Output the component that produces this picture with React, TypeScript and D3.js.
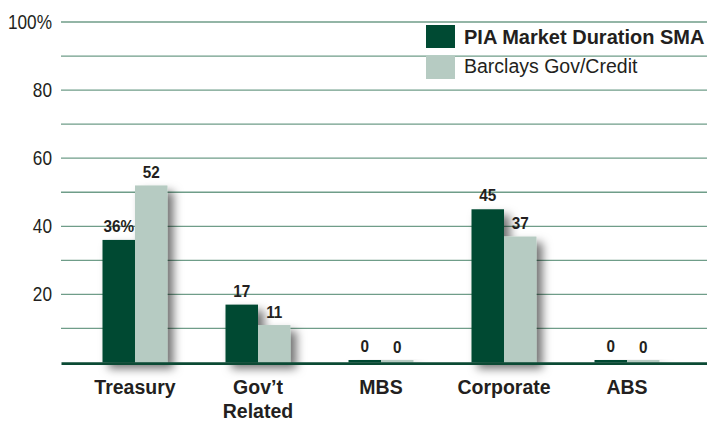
import React from "react";
import * as d3 from "d3";

const categories: string[][] = [["Treasury"], ["Gov’t", "Related"], ["MBS"], ["Corporate"], ["ABS"]];
const piaValues = [36, 17, 0, 45, 0];
const barclaysValues = [52, 11, 0, 37, 0];
const piaLabels = ["36%", "17", "0", "45", "0"];
const barclaysLabels = ["52", "11", "0", "37", "0"];
const gridTicks = [10, 20, 30, 40, 50, 60, 70, 80, 90, 100];
const labelTicks = [20, 40, 60, 80, 100];
const seriesNames = ["PIA Market Duration SMA", "Barclays Gov/Credit"];

const W = 707;
const H = 421;
const DARK = "#004a33";
const LIGHT = "#b6cbc2";
const GRID = "#6f9d89";
const TEXT = "#231f20";

export default function App() {
  const y = d3.scaleLinear().domain([0, 100]).range([362.5, 22]);
  const x = d3
    .scalePoint<number>()
    .domain(d3.range(categories.length))
    .range([73.5, 688.5])
    .padding(0.5);
  const bw = 32.5;
  const minH = 2.5;
  const sans = "'Liberation Sans', Arial, sans-serif";

  return (
    <svg width={W} height={H} style={{ position: "absolute", left: 0, top: 0, background: "#fff" }}>
      <defs>
        <filter id="shadow" x="-30%" y="-30%" width="170%" height="170%">
          <feDropShadow dx="6" dy="6" stdDeviation="5" floodColor="#000" floodOpacity="0.55" />
        </filter>
      </defs>
      <rect x={0} y={0} width={W} height={H} fill="#fff" />
      {gridTicks.map((t) => (
        <line key={t} x1={61} x2={W} y1={y(t)} y2={y(t)} stroke={GRID} strokeWidth={1.3} />
      ))}
      {labelTicks.map((t) => (
        <text
          key={t}
          transform={`translate(52,${y(t) + 7}) scale(0.84,1)`}
          textAnchor="end"
          fontFamily={sans}
          fontSize={20.5}
          fill={TEXT}
        >
          {t === 100 ? "100%" : t}
        </text>
      ))}
      {categories.map((c, i) => {
        const cx = x(i) as number;
        const h1 = Math.max(y(0) - y(piaValues[i]), minH);
        const h2 = Math.max(y(0) - y(barclaysValues[i]), minH);
        return (
          <g key={i} filter="url(#shadow)">
            <rect x={cx - bw} y={y(0) - h1} width={bw} height={h1} fill={DARK} />
            <rect x={cx} y={y(0) - h2} width={bw} height={h2} fill={LIGHT} />
          </g>
        );
      })}
      <line x1={61.5} x2={W} y1={363.6} y2={363.6} stroke="#0b4a34" strokeWidth={2.6} />
      {categories.map((c, i) => {
        const cx = x(i) as number;
        const h1 = Math.max(y(0) - y(piaValues[i]), minH);
        const h2 = Math.max(y(0) - y(barclaysValues[i]), minH);
        return (
          <g key={"l" + i} fontFamily={sans} fontWeight="bold" fontSize={17} fill={TEXT} textAnchor="middle">
            <text transform={`translate(${cx - bw / 2},${y(0) - h1 - 8}) scale(0.9,1)`}>{piaLabels[i]}</text>
            <text transform={`translate(${cx + bw / 2},${y(0) - h2 - 7.5}) scale(0.9,1)`}>{barclaysLabels[i]}</text>
          </g>
        );
      })}
      {categories.map((c, i) => (
        <text
          key={"c" + i}
          x={x(i) as number}
          y={394}
          textAnchor="middle"
          fontFamily={sans}
          fontWeight="bold"
          fontSize={19.5}
          fill={TEXT}
        >
          {c.map((line, j) => (
            <tspan key={j} x={x(i) as number} dy={j === 0 ? 0 : 24}>
              {line}
            </tspan>
          ))}
        </text>
      ))}
      <rect x={426} y={25} width={29} height={23} fill={DARK} />
      <rect x={426} y={56} width={29} height={23} fill={LIGHT} />
      <text x={464} y={44.3} fontFamily={sans} fontWeight="bold" fontSize={20} fill={TEXT}>
        {seriesNames[0]}
      </text>
      <text x={464} y={73.3} fontFamily={sans} fontSize={19.5} fill={TEXT}>
        {seriesNames[1]}
      </text>
    </svg>
  );
}
